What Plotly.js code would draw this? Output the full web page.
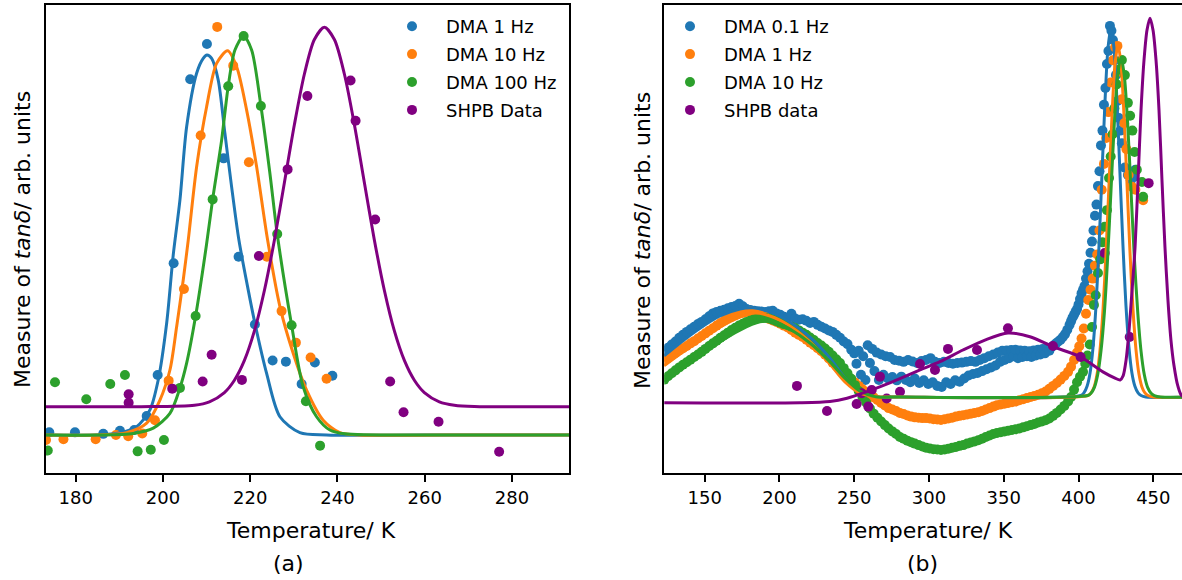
<!DOCTYPE html>
<html><head><meta charset="utf-8">
<script src="https://cdn.plot.ly/plotly-3.0.1.min.js"></script>
<style>html,body{margin:0;padding:0;background:#fff}#chart{width:1182px;height:580px}</style>
</head><body><div id="chart"></div>
<script>
// ---------- Panel (a) data ----------
const aDma1X = [210.08,206.25,213.91,202.45,217.34,221.08,225.13,228.18,234.82,238.83,231.78,198.79,196.27,173.95,179.84,186.32,190.15,193.43];
const aDma1Y = [1.029,0.936,0.728,0.452,0.469,0.291,0.196,0.193,0.191,0.156,0.134,0.158,0.050,0.007,0.007,0.003,0.011,0.013];
const aDma10X = [212.44,216.11,208.64,219.70,204.81,223.83,227.19,230.47,233.84,237.50,201.31,198.17,195.26,192.05,189.23,184.58,177.20,173.20];
const aDma10Y = [1.074,0.972,0.788,0.718,0.384,0.469,0.326,0.243,0.204,0.148,0.143,0.039,0.004,-0.003,0.000,-0.011,-0.011,-0.013];
const aDma100X = [218.49,214.96,222.45,211.39,226.19,207.49,229.49,203.90,232.76,200.23,197.21,194.20,191.29,187.93,182.43,175.26,173.61,236.01];
const aDma100Y = [1.050,0.918,0.866,0.620,0.529,0.313,0.289,0.124,0.089,-0.013,-0.039,-0.043,0.158,0.134,0.094,0.139,-0.041,-0.028];
const aShpbX = [233.10,243.00,244.15,228.57,248.64,221.99,211.16,209.10,218.10,202.13,192.14,192.14,252.07,255.14,263.16,277.05];
const aShpbY = [0.892,0.933,0.827,0.699,0.567,0.471,0.211,0.141,0.145,0.122,0.107,0.085,0.141,0.060,0.035,-0.044];

const aFit1X = [173.13,185,190.15,193.98,197.02,198.92,200.85,202.36,203.89,205.43,207.72,209.23,210.08,211.16,212.67,214.20,215.74,217.41,219.54,221.08,223.76,226.81,231.39,237.50,260,293.13];
const aFit1Y = [0,0,0.006,0.022,0.066,0.145,0.294,0.474,0.618,0.811,0.952,0.991,1.0,0.991,0.934,0.794,0.653,0.513,0.382,0.294,0.162,0.048,0.006,0,0,0];
const aFit10X = [173.13,185,191.68,196.27,199.31,201.60,203.14,204.65,205.80,207.72,210.01,212.30,214.82,216.89,219.18,221.47,223.99,226.81,229.85,232.92,236.72,240.55,245.13,265,293.13];
const aFit10Y = [0,0,0.006,0.031,0.092,0.171,0.285,0.408,0.513,0.706,0.864,0.978,1.011,0.969,0.855,0.706,0.513,0.338,0.215,0.118,0.039,0.006,0,0,0];
const aFit100X = [173.13,185,193.20,197.78,201.60,203.90,205.43,207.49,209.97,211.39,213.45,214.96,216.50,218.49,220.32,222.45,224.51,226.19,229.49,232.14,235.21,238.26,241.70,265,293.13];
const aFit100Y = [0,0,0.004,0.018,0.057,0.124,0.189,0.313,0.5,0.620,0.776,0.918,1.013,1.050,1.013,0.866,0.689,0.529,0.289,0.127,0.048,0.013,0.003,0,0];
const aFitShX = [173.13,195,207.22,210.65,214.09,216.38,218.67,220.96,223.25,225.55,227.84,230.13,232.42,234.71,237.00,239.29,241.58,243.87,246.16,248.45,250.75,253.04,255.33,257.62,259.91,263.35,266.78,271.37,293.13];
const aFitShY = [0.0745,0.0745,0.0784,0.0874,0.1118,0.1442,0.1963,0.2739,0.3803,0.5134,0.6645,0.8171,0.95,1.0408,1.0729,1.0408,0.95,0.8171,0.6645,0.5134,0.3803,0.2739,0.1963,0.1442,0.1118,0.0874,0.0784,0.0750,0.0745];

// ---------- Panel (b) data ----------
const bDma01X = [123,125.5,128,130.5,133,135.5,138,140.5,143,145.5,148,150.5,153,155.5,158,160.5,163,165.5,168,170.5,173,175.5,178,180.5,183,185.5,188,190.5,193,195.5,198,200.5,203,205.5,208,210.5,213,215.5,218,220.5,223,225.5,228,230.5,233,235.5,238,240.5,243,245.5,248,
250,251.5,253,254.5,256,257.5,259,260.5,262,263.5,265,266.5,268,269.5,271,272.5,274,275.5,277,278.5,280,281.5,283,284.5,286,287.5,289,290.5,292,293.5,295,296.5,298,299.5,301,302.5,304,305.5,307,308.5,310,311.5,313,314.5,316,317.5,319,320.5,322,323.5,325,326.5,328,329.5,331,332.5,334,335.5,337,338.5,340,341.5,343,344.5,346,347.5,349,350.5,352,353.5,355,356.5,358,359.5,361,362.5,364,365.5,367,368.5,370,371.5,373,374.5,376,377.5,379,380.5,382,383.5,385,386.5,388,389.5,391,392.5,394,395,396,397,398,399,400,401,402,403,404,405,406,407,408,409,410,411,412,413,414,415,416,417,418,419,420,421,422,423,424,425,426,427,428,429,431,433,435,437,438];
const bDma01Y = [0.125,0.133,0.142,0.150,0.160,0.168,0.176,0.183,0.190,0.197,0.203,0.210,0.218,0.226,0.230,0.233,0.236,0.240,0.243,0.246,0.252,0.245,0.238,0.235,0.233,0.232,0.231,0.230,0.232,0.233,0.226,0.222,0.217,0.214,0.225,0.212,0.209,0.210,0.206,0.200,0.203,0.195,0.190,0.185,0.180,0.176,0.168,0.160,0.150,0.143,0.128,
0.118,0.090,0.125,0.060,0.110,0.046,0.140,0.092,0.130,0.070,0.120,0.046,0.115,0.060,0.110,0.050,0.108,0.054,0.100,0.045,0.098,0.055,0.095,0.046,0.100,0.040,0.096,0.050,0.092,0.038,0.097,0.045,0.100,0.035,0.105,0.040,0.095,0.030,0.092,0.027,0.095,0.040,0.092,0.035,0.090,0.045,0.092,0.041,0.093,0.050,0.095,0.058,0.097,0.062,0.095,0.065,0.100,0.070,0.105,0.075,0.110,0.080,0.115,0.085,0.120,0.095,0.125,0.100,0.126,0.105,0.127,0.110,0.128,0.105,0.126,0.108,0.125,0.110,0.124,0.108,0.126,0.112,0.128,0.115,0.130,0.118,0.132,0.125,0.135,0.140,0.145,0.150,0.155,0.162,0.170,0.182,0.195,0.205,0.215,0.222,0.230,0.238,0.250,0.265,0.280,0.290,0.300,0.320,0.340,0.360,0.390,0.420,0.450,0.490,0.520,0.570,0.610,0.680,0.720,0.790,0.835,0.900,0.935,1.003,0.990,0.965,0.910,0.870,0.800,0.754,0.720,0.686,0.620,0.600,0.586,0.595,0.614];

const bDma1X = [123,125.5,128,130.5,133,135.5,138,140.5,143,145.5,148,150.5,153,155.5,158,160.5,163,165.5,168,170.5,173,175.5,178,180.5,183,185.5,188,190.5,193,195.5,198,200.5,203,205.5,208,210.5,213,215.5,218,220.5,223,225.5,228,230.5,233,235.5,238,240.5,243,245.5,248,250.5,253,255.5,258,260.5,263,265.5,268,270.5,273,275.5,278,280.5,283,285.5,288,290.5,293,295.5,298,300.5,303,305.5,308,310.5,313,315.5,318,320.5,323,325.5,328,330.5,333,335.5,338,340.5,343,345.5,348,350.5,353,355.5,358,360.5,363,365.5,368,370.5,373,375.5,378,380.5,383,385.5,388,390.5,393,395,397,399,400.5,402,403.5,405,406.5,408,409.5,411,412.5,414,415.5,417,418.5,420,421.5,423,424.5,426,427.5,429,430.5,432,433.5,435.8,438,443.2];
const bDma1Y = [0.098,0.105,0.112,0.119,0.126,0.132,0.138,0.145,0.151,0.158,0.165,0.172,0.179,0.186,0.193,0.200,0.206,0.212,0.217,0.222,0.226,0.228,0.230,0.231,0.229,0.225,0.220,0.216,0.211,0.207,0.203,0.198,0.193,0.188,0.181,0.174,0.168,0.162,0.155,0.147,0.140,0.132,0.124,0.114,0.104,0.093,0.084,0.075,0.066,0.058,0.048,0.039,0.030,0.021,0.013,0.006,-0.001,-0.008,-0.016,-0.023,-0.030,-0.034,-0.038,-0.043,-0.046,-0.050,-0.053,-0.055,-0.056,-0.057,-0.057,-0.058,-0.060,-0.061,-0.062,-0.060,-0.058,-0.056,-0.053,-0.051,-0.049,-0.047,-0.045,-0.043,-0.041,-0.038,-0.034,-0.030,-0.026,-0.022,-0.020,-0.018,-0.016,-0.014,-0.012,-0.009,-0.006,-0.003,0.000,0.003,0.006,0.010,0.015,0.022,0.030,0.038,0.047,0.057,0.068,0.082,0.100,0.120,0.137,0.158,0.185,0.225,0.262,0.290,0.320,0.355,0.385,0.450,0.560,0.630,0.700,0.770,0.850,0.910,0.945,0.949,0.880,0.805,0.740,0.670,0.600,0.568,0.560,0.532];

const bDma10X = [123,125.5,128,130.5,133,135.5,138,140.5,143,145.5,148,150.5,153,155.5,158,160.5,163,165.5,168,170.5,173,175.5,178,180.5,183,185.5,188,190.5,193,195.5,198,200.5,203,205.5,208,210.5,213,215.5,218,220.5,223,225.5,228,230.5,233,235.5,238,240.5,243,245.5,248,250.5,253,255.5,258,260.5,263,265.5,268,270.5,273,275.5,278,280.5,283,285.5,288,290.5,293,295.5,298,300.5,303,305.5,308,310.5,313,315.5,318,320.5,323,325.5,328,330.5,333,335.5,338,340.5,343,345.5,348,350.5,353,355.5,358,360.5,363,365.5,368,370.5,373,375.5,378,380.5,383,385.5,388,390.5,393,395,397,399,401,403,404.5,406,407.5,409,410.3,411.5,413,414.5,416,417.5,419,420.4,421.5,422.8,424,425.5,427,429,431,433,434.5,436,437.5,439,442.4,443.2];
const bDma10Y = [0.047,0.056,0.064,0.072,0.080,0.087,0.094,0.101,0.108,0.115,0.122,0.130,0.138,0.145,0.152,0.160,0.167,0.174,0.181,0.187,0.193,0.198,0.203,0.207,0.210,0.213,0.214,0.214,0.212,0.209,0.205,0.201,0.197,0.194,0.190,0.186,0.180,0.174,0.168,0.161,0.154,0.146,0.139,0.131,0.122,0.112,0.102,0.092,0.078,0.064,0.049,0.032,0.016,0.000,-0.015,-0.031,-0.045,-0.056,-0.066,-0.076,-0.085,-0.093,-0.100,-0.108,-0.113,-0.118,-0.122,-0.126,-0.130,-0.134,-0.137,-0.139,-0.141,-0.142,-0.143,-0.142,-0.140,-0.137,-0.135,-0.132,-0.130,-0.126,-0.123,-0.120,-0.117,-0.113,-0.108,-0.104,-0.100,-0.097,-0.095,-0.093,-0.091,-0.089,-0.087,-0.085,-0.082,-0.079,-0.076,-0.073,-0.069,-0.066,-0.063,-0.058,-0.051,-0.043,-0.034,-0.024,-0.012,0.000,0.020,0.040,0.055,0.068,0.090,0.112,0.142,0.189,0.249,0.275,0.335,0.372,0.418,0.460,0.505,0.592,0.650,0.710,0.780,0.845,0.885,0.911,0.870,0.795,0.760,0.720,0.662,0.614,0.581,0.541];

const bShpbX = [211.7,231.8,251.6,255.0,259.4,261.7,267.2,271.7,280.6,294.0,304.0,312.7,332.1,352.8,382.9,401.4,417.5,434.2,446.9];
const bShpbY = [0.030,-0.038,-0.019,0.010,-0.026,0.019,0.055,-0.004,0.014,0.089,0.073,0.130,0.127,0.186,0.138,0.108,0.389,0.162,0.578];

const bFit01X = [122.8,133.5,146.9,160.2,173.6,182.3,193.7,207.0,220.4,233.8,243.8,253.8,263.9,280.6,401.6,403.6,405.7,407.7,409.7,411.7,413.7,415.7,417.7,419.7,421.7,423.7,425.7,427.7,429.7,431.7,433.7,435.7,437.7,439.8,441.8,445,476];
const bFit01Y = [0.111,0.146,0.186,0.219,0.238,0.241,0.230,0.203,0.162,0.105,0.051,0.014,0.001,0,0.004,0.011,0.029,0.065,0.135,0.248,0.41,0.605,0.799,0.943,0.997,0.943,0.799,0.605,0.41,0.248,0.135,0.065,0.029,0.011,0.004,0,0];
const bFit1X = [122.8,133.5,146.9,160.2,173.6,183.6,193.7,207.0,220.4,233.8,243.8,253.8,263.9,280.6,406.3,408.3,410.4,412.4,414.4,416.4,418.4,420.4,422.4,424.4,426.4,428.4,430.4,432.4,434.4,436.4,438.4,440.4,442.4,444.4,446.5,450,476];
const bFit1Y = [0.084,0.116,0.154,0.189,0.216,0.227,0.219,0.192,0.149,0.089,0.041,0.011,0.001,0,0.004,0.011,0.027,0.062,0.129,0.238,0.392,0.577,0.762,0.9,0.951,0.9,0.762,0.577,0.392,0.238,0.129,0.062,0.027,0.011,0.004,0,0];
const bFit10X = [122.8,133.5,146.9,160.2,173.6,187.0,197.0,207.0,220.4,233.8,243.8,253.8,263.9,280.6,406.1,408.3,410.6,412.8,415.0,417.3,419.5,421.7,423.9,426.2,428.4,430.6,432.9,435.1,437.3,439.6,441.8,444.0,446.2,448.5,450.7,455,476];
const bFit10Y = [0.041,0.073,0.111,0.149,0.181,0.203,0.203,0.184,0.146,0.095,0.051,0.016,0.001,0,0.004,0.010,0.026,0.060,0.124,0.229,0.378,0.557,0.736,0.869,0.919,0.869,0.736,0.557,0.378,0.229,0.124,0.060,0.026,0.010,0.004,0,0];
const bFitShX = [122.8,213.7,233.8,245.2,258.5,275.9,294.0,307.3,322.7,337.4,352.8,367.5,382.9,401.0,416.3,424.4,427.8,429.8,431.8,433.8,435.8,437.8,439.8,441.8,443.8,445.8,447.8,449.8,451.8,453.8,455.8,457.8,459.8,461.8,463.8,466.4,469.1,474.4];
const bFitShY = [-0.0154,-0.0154,-0.0122,-0.0035,0.0143,0.0414,0.073,0.0954,0.127,0.154,0.173,0.163,0.136,0.109,0.068,0.051,0.046,0.057,0.1,0.181,0.289,0.405,0.586,0.776,0.911,0.992,1.024,0.992,0.911,0.776,0.586,0.405,0.262,0.154,0.086,0.03,0.003,0];

const aTicks = [180,200,220,240,260,280];
const bTicks = [150,200,250,300,350,400,450];

// ---------- build ----------
const C = {blue:'#1f77b4', orange:'#ff7f0e', green:'#2ca02c', purple:'purple'};
const MS = 10, LW = 3;
function pts(x,y,name,color,xa,ya,leg){return {x:x,y:y,name:name,legendgroup:leg+name,type:'scatter',mode:'markers',marker:{color:color,size:MS},xaxis:xa,yaxis:ya,legend:leg,cliponaxis:true};}
function fit(x,y,color,xa,ya){return {x:x,y:y,type:'scatter',mode:'lines',line:{color:color,width:LW,shape:'spline',smoothing:0.8},xaxis:xa,yaxis:ya,showlegend:false,hoverinfo:'skip'};}

const traces = [
  pts(aDma1X,aDma1Y,'DMA 1 Hz',C.blue,'x','y','legend'),
  pts(aDma10X,aDma10Y,'DMA 10 Hz',C.orange,'x','y','legend'),
  pts(aDma100X,aDma100Y,'DMA 100 Hz',C.green,'x','y','legend'),
  pts(aShpbX,aShpbY,'SHPB Data',C.purple,'x','y','legend'),
  fit(aFit1X,aFit1Y,C.blue,'x','y'),
  fit(aFit10X,aFit10Y,C.orange,'x','y'),
  fit(aFit100X,aFit100Y,C.green,'x','y'),
  fit(aFitShX,aFitShY,C.purple,'x','y'),
  pts(bDma01X,bDma01Y,'DMA 0.1 Hz',C.blue,'x2','y2','legend2'),
  pts(bDma1X,bDma1Y,'DMA 1 Hz',C.orange,'x2','y2','legend2'),
  pts(bDma10X,bDma10Y,'DMA 10 Hz',C.green,'x2','y2','legend2'),
  pts(bShpbX,bShpbY,'SHPB data',C.purple,'x2','y2','legend2'),
  fit(bFit01X,bFit01Y,C.blue,'x2','y2'),
  fit(bFit1X,bFit1Y,C.orange,'x2','y2'),
  fit(bFit10X,bFit10Y,C.green,'x2','y2'),
  fit(bFitShX,bFitShY,C.purple,'x2','y2')
];

const W = 1182, H = 580;
const FONT = 'DejaVu Sans, sans-serif';
const xAx = (dom, rng, ticks) => ({domain:dom, range:rng, tickvals:ticks, ticktext:ticks.map(String), ticks:'outside', ticklen:7, tickwidth:2, tickcolor:'#000',
  showline:true, linecolor:'#000', linewidth:2, mirror:true, showgrid:false, zeroline:false, tickfont:{size:18,color:'#000',family:FONT}, fixedrange:true});
const yAx = (anchor, rng, mirror) => ({domain:[107/H, 575/H], range:rng, showticklabels:false, ticks:'', showline:true, linecolor:'#000', linewidth:2, mirror:mirror,
  showgrid:false, zeroline:false, anchor:anchor, fixedrange:true});

const ann = (text,x,y,extra) => Object.assign({text:text, x:x/W, y:1-y/H, xref:'paper', yref:'paper', showarrow:false, xanchor:'center', yanchor:'middle', font:{size:22,color:'#000',family:FONT}}, extra||{});
const legendStyle = (x) => ({x:x/W, y:1-8/H, xanchor:'left', yanchor:'top', bgcolor:'rgba(0,0,0,0)', borderwidth:0, font:{size:18,family:FONT,color:'#000'}, itemwidth:58, tracegroupgap:1.5, traceorder:'grouped'});

const layout = {
  width:W, height:H, margin:{l:0,r:0,t:0,b:0}, paper_bgcolor:'#fff', plot_bgcolor:'#fff',
  font:{family:FONT, color:'#000'},
  xaxis: xAx([45.7/W, 569.3/W],[173.13,293.13],aTicks),
  yaxis: yAx('x',[-0.1,1.1316],true),
  xaxis2: Object.assign(xAx([664.3/W, 1],[122.99,469.19],bTicks),{anchor:'y2'}),
  yaxis2: yAx('x2',[-0.2054,1.0595],false),
  legend: legendStyle(378),
  legend2: legendStyle(656),
  annotations:[
    ann('Temperature/ K',310.8,530),
    ann('(a)',288,563),
    ann('Temperature/ K',928.3,530),
    ann('(b)',922.5,563),
    ann('Measure of <i>tanδ</i>/ arb. units',23,240,{textangle:-90}),
    ann('Measure of <i>tanδ</i>/ arb. units',643,240,{textangle:-90})
  ]
};
Plotly.newPlot('chart', traces, layout, {staticPlot:true, displayModeBar:false});
</script>
</body></html>
